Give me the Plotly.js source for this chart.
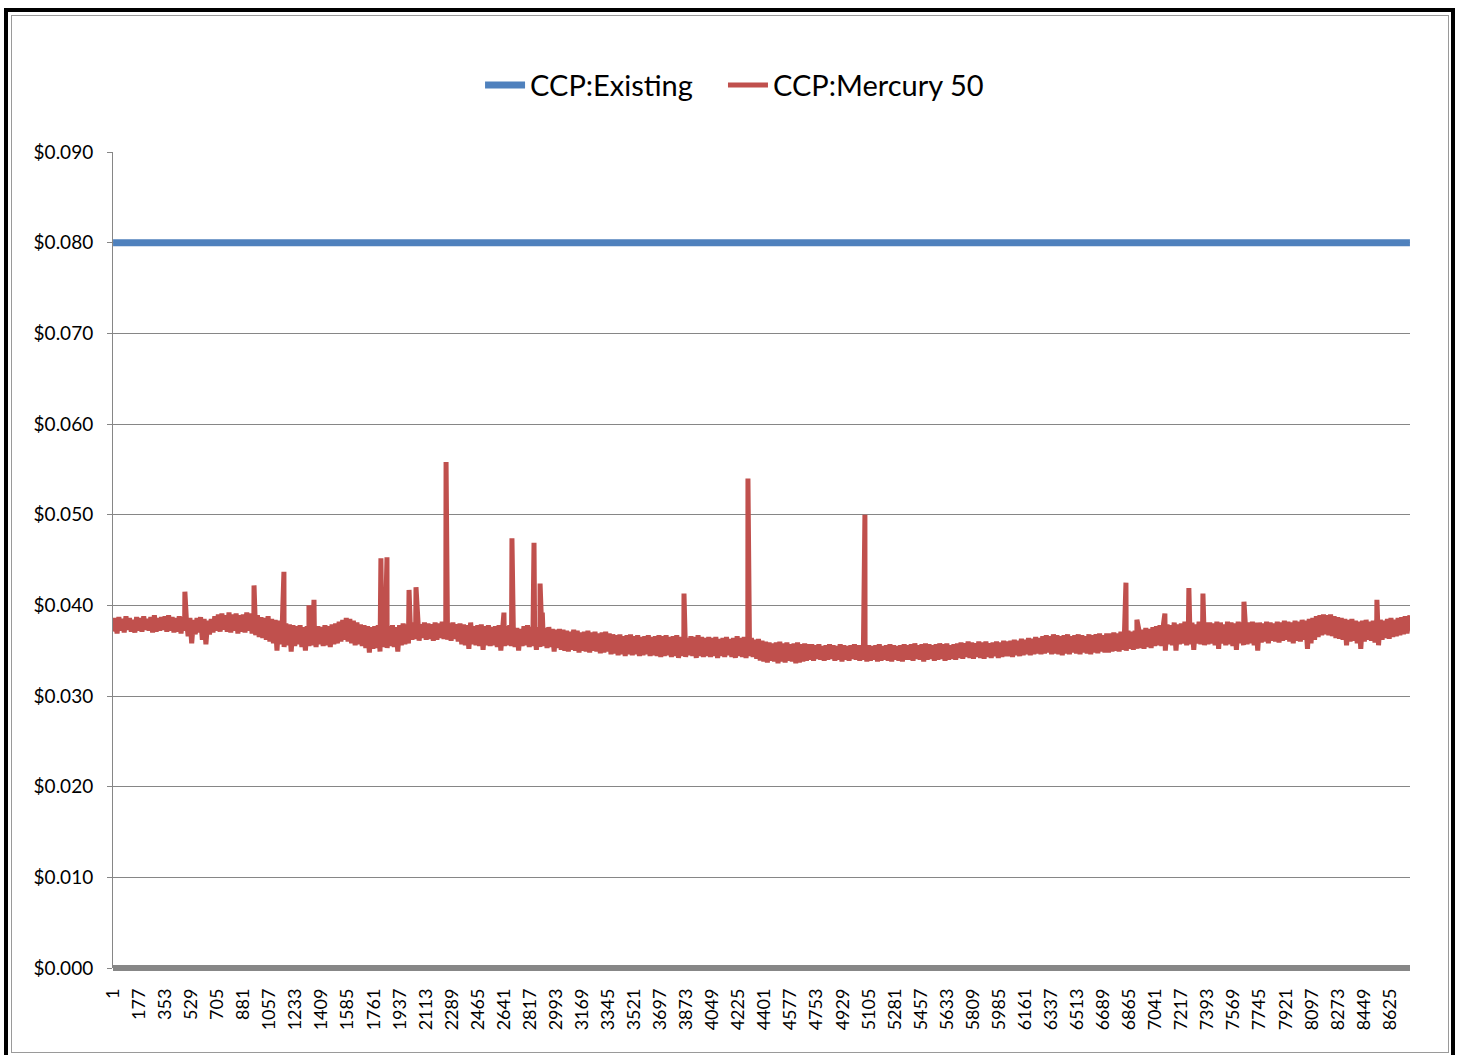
<!DOCTYPE html>
<html>
<head>
<meta charset="utf-8">
<script src="https://cdn.plot.ly/plotly-3.0.1.min.js"></script>
<style>
  html, body { margin: 0; padding: 0; background: #ffffff; }
  #wrap { position: relative; width: 1460px; height: 1055px; overflow: hidden; }
  #chart { position: absolute; left: 0; top: 0; width: 1460px; height: 1055px; }
  #outer { position: absolute; left: 4px; top: 8px; width: 1443px; height: 1060px; border: 4px solid #000; pointer-events: none; }
  #inner { position: absolute; left: 11px; top: 15px; width: 1436px; height: 1036px; border: 1px solid #9a9a9a; pointer-events: none; }
</style>
</head>
<body>
<div id="wrap">
  <div id="chart"></div>
  <div id="outer"></div>
  <div id="inner"></div>
</div>
<script>
// ---- Data ----
const seriesNames = ["CCP:Existing", "CCP:Mercury 50"];

// CCP:Existing — flat rate for the whole year (hour 1 .. 8760)
const existingHours = [1, 8760];
const existingValues = [0.080, 0.080];

const mercuryDailyHigh = [
  0.0386,0.0387,0.0385,0.0388,0.0386,0.0384,0.0387,0.0386,0.0388,0.0385,0.0387,0.0389,0.0386,0.0387,
  0.0388,0.0389,0.0387,0.0386,0.0388,0.0387,0.0385,0.0386,0.0384,0.0386,0.0387,0.0385,0.0383,0.0385,
  0.0388,0.0390,0.0391,0.0389,0.0392,0.0390,0.0391,0.0389,0.0390,0.0392,0.0391,0.0388,0.0389,0.0387,
  0.0386,0.0388,0.0385,0.0384,0.0383,0.0381,0.0380,0.0379,0.0378,0.0377,0.0378,0.0376,0.0377,0.0379,
  0.0378,0.0377,0.0376,0.0378,0.0377,0.0379,0.0380,0.0382,0.0384,0.0386,0.0385,0.0383,0.0381,0.0379,
  0.0378,0.0377,0.0376,0.0377,0.0378,0.0376,0.0375,0.0377,0.0378,0.0376,0.0378,0.0380,0.0379,0.0380,
  0.0381,0.0380,0.0379,0.0381,0.0380,0.0379,0.0381,0.0380,0.0382,0.0379,0.0380,0.0381,0.0379,0.0380,
  0.0379,0.0378,0.0381,0.0377,0.0378,0.0379,0.0377,0.0378,0.0376,0.0377,0.0378,0.0376,0.0377,0.0378,
  0.0376,0.0375,0.0374,0.0377,0.0378,0.0376,0.0375,0.0376,0.0374,0.0375,0.0376,0.0374,0.0373,0.0374,
  0.0373,0.0372,0.0371,0.0373,0.0372,0.0370,0.0371,0.0372,0.0370,0.0371,0.0369,0.0370,0.0371,0.0369,
  0.0368,0.0367,0.0368,0.0366,0.0367,0.0368,0.0366,0.0367,0.0365,0.0366,0.0367,0.0365,0.0366,0.0367,
  0.0366,0.0367,0.0365,0.0366,0.0367,0.0365,0.0366,0.0364,0.0366,0.0365,0.0367,0.0365,0.0364,0.0365,
  0.0364,0.0365,0.0363,0.0364,0.0365,0.0363,0.0364,0.0366,0.0364,0.0365,0.0363,0.0364,0.0362,0.0363,
  0.0361,0.0360,0.0359,0.0358,0.0359,0.0360,0.0358,0.0359,0.0357,0.0358,0.0359,0.0357,0.0358,0.0357,
  0.0357,0.0356,0.0357,0.0355,0.0356,0.0357,0.0356,0.0355,0.0357,0.0356,0.0355,0.0356,0.0357,0.0356,
  0.0356,0.0357,0.0356,0.0355,0.0356,0.0357,0.0355,0.0356,0.0357,0.0356,0.0355,0.0356,0.0357,0.0356,
  0.0357,0.0358,0.0356,0.0357,0.0358,0.0357,0.0356,0.0357,0.0358,0.0357,0.0358,0.0356,0.0357,0.0358,
  0.0359,0.0358,0.0360,0.0359,0.0358,0.0360,0.0359,0.0360,0.0358,0.0359,0.0360,0.0359,0.0361,0.0360,
  0.0361,0.0362,0.0361,0.0363,0.0362,0.0364,0.0363,0.0365,0.0364,0.0366,0.0367,0.0366,0.0368,0.0367,
  0.0366,0.0367,0.0368,0.0366,0.0367,0.0368,0.0367,0.0366,0.0368,0.0367,0.0368,0.0369,0.0367,0.0369,
  0.0369,0.0370,0.0369,0.0371,0.0370,0.0372,0.0371,0.0372,0.0374,0.0373,0.0375,0.0374,0.0376,0.0377,
  0.0378,0.0380,0.0379,0.0378,0.0381,0.0379,0.0380,0.0382,0.0380,0.0381,0.0379,0.0382,0.0380,0.0381,
  0.0381,0.0380,0.0382,0.0381,0.0379,0.0382,0.0381,0.0380,0.0382,0.0381,0.0380,0.0381,0.0382,0.0381,
  0.0381,0.0380,0.0382,0.0381,0.0380,0.0382,0.0381,0.0383,0.0382,0.0381,0.0383,0.0382,0.0384,0.0383,
  0.0385,0.0386,0.0388,0.0389,0.0390,0.0389,0.0390,0.0388,0.0387,0.0386,0.0385,0.0384,0.0385,0.0383,
  0.0382,0.0383,0.0384,0.0382,0.0383,0.0385,0.0384,0.0383,0.0385,0.0386,0.0384,0.0386,0.0387,0.0388,
  0.0388
];

const mercuryDailyLow = [
  0.0371,0.0369,0.0372,0.0370,0.0373,0.0371,0.0370,0.0372,0.0371,0.0373,0.0372,0.0370,0.0371,0.0372,
  0.0373,0.0371,0.0372,0.0370,0.0371,0.0369,0.0372,0.0366,0.0358,0.0368,0.0370,0.0362,0.0357,0.0368,
  0.0370,0.0372,0.0371,0.0373,0.0371,0.0370,0.0372,0.0369,0.0371,0.0370,0.0372,0.0369,0.0367,0.0365,
  0.0364,0.0362,0.0360,0.0358,0.0350,0.0357,0.0354,0.0356,0.0349,0.0355,0.0357,0.0354,0.0350,0.0355,
  0.0356,0.0354,0.0357,0.0355,0.0356,0.0354,0.0357,0.0358,0.0360,0.0362,0.0360,0.0358,0.0356,0.0357,
  0.0355,0.0353,0.0348,0.0352,0.0353,0.0349,0.0354,0.0353,0.0355,0.0354,0.0349,0.0356,0.0357,0.0358,
  0.0362,0.0363,0.0361,0.0364,0.0362,0.0363,0.0361,0.0362,0.0364,0.0363,0.0362,0.0361,0.0363,0.0360,
  0.0357,0.0356,0.0352,0.0357,0.0356,0.0355,0.0351,0.0356,0.0355,0.0356,0.0354,0.0350,0.0355,0.0356,
  0.0355,0.0354,0.0350,0.0355,0.0356,0.0354,0.0355,0.0351,0.0354,0.0355,0.0353,0.0354,0.0349,0.0353,
  0.0351,0.0350,0.0349,0.0351,0.0350,0.0348,0.0350,0.0349,0.0348,0.0350,0.0349,0.0347,0.0348,0.0349,
  0.0346,0.0347,0.0345,0.0346,0.0344,0.0346,0.0345,0.0346,0.0344,0.0345,0.0346,0.0344,0.0345,0.0344,
  0.0343,0.0344,0.0345,0.0343,0.0344,0.0342,0.0344,0.0343,0.0345,0.0344,0.0342,0.0344,0.0343,0.0344,
  0.0343,0.0344,0.0342,0.0344,0.0343,0.0345,0.0343,0.0342,0.0344,0.0343,0.0342,0.0344,0.0343,0.0341,
  0.0339,0.0338,0.0337,0.0339,0.0338,0.0336,0.0338,0.0337,0.0339,0.0338,0.0336,0.0337,0.0338,0.0339,
  0.0340,0.0339,0.0341,0.0340,0.0339,0.0340,0.0341,0.0339,0.0340,0.0338,0.0340,0.0339,0.0341,0.0340,
  0.0339,0.0340,0.0338,0.0339,0.0340,0.0338,0.0339,0.0340,0.0339,0.0338,0.0340,0.0339,0.0338,0.0340,
  0.0340,0.0339,0.0341,0.0340,0.0338,0.0340,0.0341,0.0339,0.0340,0.0341,0.0339,0.0340,0.0341,0.0340,
  0.0342,0.0341,0.0343,0.0342,0.0341,0.0343,0.0342,0.0341,0.0343,0.0342,0.0344,0.0342,0.0343,0.0344,
  0.0344,0.0343,0.0345,0.0344,0.0345,0.0346,0.0345,0.0346,0.0347,0.0346,0.0347,0.0348,0.0346,0.0347,
  0.0346,0.0345,0.0347,0.0346,0.0348,0.0347,0.0346,0.0348,0.0347,0.0346,0.0348,0.0347,0.0349,0.0348,
  0.0348,0.0349,0.0350,0.0349,0.0351,0.0350,0.0352,0.0351,0.0352,0.0353,0.0352,0.0354,0.0353,0.0355,
  0.0356,0.0355,0.0350,0.0357,0.0356,0.0350,0.0357,0.0358,0.0356,0.0357,0.0351,0.0358,0.0357,0.0356,
  0.0357,0.0358,0.0356,0.0352,0.0358,0.0356,0.0357,0.0355,0.0351,0.0358,0.0356,0.0357,0.0358,0.0356,
  0.0350,0.0359,0.0360,0.0358,0.0361,0.0360,0.0359,0.0361,0.0362,0.0360,0.0358,0.0361,0.0360,0.0362,
  0.0352,0.0358,0.0362,0.0365,0.0367,0.0368,0.0367,0.0366,0.0364,0.0363,0.0362,0.0356,0.0360,0.0361,
  0.0358,0.0352,0.0360,0.0362,0.0361,0.0359,0.0356,0.0362,0.0364,0.0363,0.0365,0.0366,0.0367,0.0368,
  0.0369
];

// Individual hourly price spikes (hour, value)
const spikeHours  = [486, 953, 1155, 1324, 1358, 1810, 1851, 2000, 2047, 2250, 2641, 2695, 2844, 2885, 2900, 3857, 4289, 5079, 6842, 6916, 7105, 7267, 7362, 7639, 8537, 8760];
const spikeValues = [0.0415, 0.0422, 0.0437, 0.0400, 0.0406, 0.0452, 0.0453, 0.0417, 0.0420, 0.0558, 0.0392, 0.0474, 0.0469, 0.0424, 0.0392, 0.0413, 0.0540, 0.0500, 0.0425, 0.0384, 0.0391, 0.0419, 0.0413, 0.0404, 0.0406, 0.0389];

// x tick labels (every 176th hour)
const xTickLabels = ["1","177","353","529","705","881","1057","1233","1409","1585","1761","1937","2113","2289","2465","2641","2817","2993","3169","3345","3521","3697","3873","4049","4225","4401","4577","4753","4929","5105","5281","5457","5633","5809","5985","6161","6337","6513","6689","6865","7041","7217","7393","7569","7745","7921","8097","8273","8449","8625"];
const yTickValues = [0, 0.01, 0.02, 0.03, 0.04, 0.05, 0.06, 0.07, 0.08, 0.09];
const yTickLabels = ["$0.000","$0.010","$0.020","$0.030","$0.040","$0.050","$0.060","$0.070","$0.080","$0.090"];

// ---- Build merged Mercury series: night low (hour 4 of day) and afternoon high (hour 16 of day), plus spikes ----
const pts = [];
mercuryDailyLow.forEach((v, d) => pts.push([24 * d + 4, v]));
mercuryDailyHigh.forEach((v, d) => pts.push([24 * d + 16, v]));
spikeHours.forEach((h, i) => pts.push([h, spikeValues[i]]));
pts.sort((a, b) => a[0] - b[0]);
const mercuryHours = pts.map(p => p[0]);
const mercuryValues = pts.map(p => p[1]);

const FONT = "Lato, 'Open Sans', sans-serif";

const traces = [
  {
    x: existingHours, y: existingValues, name: seriesNames[0],
    type: "scatter", mode: "lines", legend: "legend",
    line: { color: "#4F81BD", width: 7 }
  },
  {
    x: mercuryHours, y: mercuryValues, name: seriesNames[1],
    type: "scatter", mode: "lines", legend: "legend2",
    line: { color: "#C0504D", width: 5 }
  }
];

const legendCommon = {
  orientation: "h", xanchor: "left", y: 1.082, yanchor: "middle",
  font: { family: FONT, size: 29, color: "#000000" },
  bgcolor: "rgba(0,0,0,0)", itemwidth: 40, tracegroupgap: 0
};

const layout = {
  width: 1460, height: 1055,
  margin: { l: 113, r: 50, t: 152, b: 87, pad: 0 },
  paper_bgcolor: "#ffffff", plot_bgcolor: "#ffffff",
  font: { family: FONT, color: "#000000" },
  showlegend: true,
  legend: Object.assign({}, legendCommon, { x: 0.283 }),
  legend2: Object.assign({}, legendCommon, { x: 0.4703 }),
  xaxis: {
    type: "linear", range: [0.5, 8760.5],
    tickmode: "array", tickvals: xTickLabels.map(Number), ticktext: xTickLabels,
    tickangle: -90, tickfont: { family: FONT, size: 18, color: "#000000" },
    showgrid: false, zeroline: false, showline: false, ticks: "",
    ticklabelstandoff: 16
  },
  yaxis: {
    range: [0, 0.09], tickmode: "array", tickvals: yTickValues, ticktext: yTickLabels,
    tickfont: { family: FONT, size: 19, color: "#000000" },
    showgrid: true, gridcolor: "#868686", gridwidth: 1,
    showline: true, linecolor: "#868686", linewidth: 1,
    ticks: "outside", ticklen: 5, tickcolor: "#868686", tickwidth: 1,
    zeroline: true, zerolinecolor: "#878787", zerolinewidth: 6,
    ticklabelstandoff: 10
  }
};

Plotly.newPlot("chart", traces, layout, { displayModeBar: false, staticPlot: true });
</script>
</body>
</html>
